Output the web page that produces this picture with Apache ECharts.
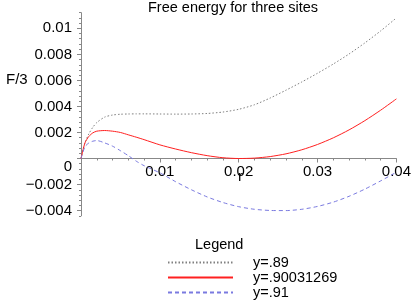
<!DOCTYPE html>
<html>
<head>
<meta charset="utf-8">
<script src="https://cdn.jsdelivr.net/npm/echarts@6/dist/echarts.min.js"></script>
<style>
html,body{margin:0;padding:0;background:#fff;}
#c{width:414px;height:302px;}
</style>
</head>
<body>
<div id="c"></div>
<script>
// r values (x axis)
const rValues = [0, 0.0005, 0.001, 0.0015, 0.002, 0.003, 0.004, 0.005, 0.006, 0.007, 0.008, 0.01, 0.012, 0.014, 0.016, 0.018, 0.02, 0.022, 0.024, 0.026, 0.028, 0.03, 0.032, 0.034, 0.036, 0.038, 0.04];
// F/3 for y=.89
const f089 = [0, 0.0012, 0.0019, 0.0024, 0.00276, 0.00318, 0.00334, 0.0034, 0.00342, 0.00343, 0.00343, 0.00342, 0.00341, 0.00342, 0.00346, 0.00357, 0.00378, 0.00413, 0.00465, 0.00525, 0.00588, 0.00655, 0.00726, 0.00803, 0.00888, 0.0098, 0.0108];
// F/3 for y=.90031269
const f090 = [0, 0.0012, 0.0017, 0.00197, 0.0021, 0.00215, 0.0021, 0.002, 0.00182, 0.00164, 0.00145, 0.00105, 0.00073, 0.00045, 0.00022, 0.00006, 0, 0.00003, 0.00015, 0.00036, 0.00067, 0.00108, 0.00159, 0.0022, 0.00291, 0.00371, 0.00458];
// F/3 for y=.91
const f091 = [0, 0.0009, 0.0012, 0.00133, 0.00138, 0.0012, 0.00095, 0.0006, 0.00022, -0.0002, -0.00055, -0.0011, -0.00178, -0.0024, -0.00295, -0.00338, -0.0037, -0.0039, -0.00399, -0.004, -0.0039, -0.00368, -0.00335, -0.0029, -0.00235, -0.00172, -0.00105];

const seriesNames = ['y=.89', 'y=.90031269', 'y=.91'];
const xTicks = [0.01, 0.02, 0.03, 0.04];
const xTickLabels = ['0.01', '0.02', '0.03', '0.04'];
const yTicks = [-0.004, -0.002, 0, 0.002, 0.004, 0.006, 0.008, 0.01];
const yTickLabels = ['\u22120.004', '\u22120.002', '0', '0.002', '0.004', '0.006', '0.008', '0.01'];
const yMinorTicks = [];
for (let k = -11; k <= 28; k++) { if (k % 5 !== 0) yMinorTicks.push(k * 4 / 10000); }

const pair = (ys) => rValues.map((r, i) => [r, ys[i]]);
const FONT = 'Liberation Sans, Arial, sans-serif';
const Y_MIN = -0.0044, Y_MAX = 0.0112;
const GRID = {left: 81, right: 12, top: 12.7, bottom: 86.2};
const plotH = 302 - GRID.top - GRID.bottom;
const zeroOffset = -plotH * (0 - Y_MIN) / (Y_MAX - Y_MIN);

const chart = echarts.init(document.getElementById('c'), null, {renderer: 'canvas'});
chart.setOption({
  animation: false,
  backgroundColor: '#fff',
  title: [
    {text: 'Free energy for three sites', left: 148, top: 0, padding: 0,
     textStyle: {fontFamily: FONT, fontSize: 14.5, fontWeight: 'normal', color: '#000'}},
    {text: 'Legend', left: 195, top: 237, padding: 0,
     textStyle: {fontFamily: FONT, fontSize: 14.5, fontWeight: 'normal', color: '#000'}}
  ],
  graphic: [
    {type: 'text', left: 6, top: 72, style: {text: 'F/3', font: '15px ' + FONT, fill: '#000'}},
    {type: 'text', left: 238, top: 169, style: {text: 'r', font: '15px ' + FONT, fill: '#000'}}
  ],
  grid: GRID,
  legend: {
    orient: 'vertical', left: 167, top: 255, padding: 0,
    itemWidth: 65, itemHeight: 10, itemGap: 0,
    itemStyle: {opacity: 0},
    textStyle: {fontFamily: FONT, fontSize: 14.5, color: '#000', lineHeight: 13.5, padding: [0, 0, 0, 15]},
    data: seriesNames
  },
  xAxis: [
    {
      type: 'value', min: 0, max: 0.04, interval: 0.01,
      axisLine: {onZero: true, lineStyle: {color: '#888', width: 1}},
      axisTick: {show: true, length: 4, lineStyle: {color: '#888'}},
      minorTick: {show: true, splitNumber: 5, length: 2, lineStyle: {color: '#888'}},
      splitLine: {show: false},
      axisLabel: {show: false}
    },
    {
      type: 'value', min: 0, max: 0.04, interval: 0.01, position: 'bottom', offset: zeroOffset,
      axisLine: {show: false, onZero: false},
      axisTick: {show: false},
      splitLine: {show: false},
      axisLabel: {
        margin: 6, fontFamily: FONT, fontSize: 15, color: '#000',
        formatter: (v) => { const i = xTicks.findIndex(t => Math.abs(t - v) < 1e-9); return i >= 0 ? xTickLabels[i] : ''; }
      }
    }
  ],
  yAxis: [
    {
      type: 'value', min: Y_MIN, max: Y_MAX,
      axisLine: {show: true, onZero: false, lineStyle: {color: '#888', width: 1}},
      axisTick: {show: true, length: 4, customValues: yTicks, lineStyle: {color: '#888'}},
      splitLine: {show: false},
      axisLabel: {
        customValues: yTicks, margin: 9, fontFamily: FONT, fontSize: 15, color: '#000',
        formatter: (v) => {
          const i = yTicks.findIndex(t => Math.abs(t - v) < 1e-9);
          if (i < 0) return '';
          return Math.abs(v) < 1e-12 ? '{z|' + yTickLabels[i] + '}' : yTickLabels[i];
        },
        rich: {z: {fontFamily: FONT, fontSize: 15, color: '#000', padding: [16, 0, 0, 0]}}
      }
    },
    {
      type: 'value', min: Y_MIN, max: Y_MAX, position: 'left',
      axisLine: {show: false},
      axisTick: {show: true, length: 2, customValues: yMinorTicks, lineStyle: {color: '#888'}},
      axisLabel: {show: false},
      splitLine: {show: false}
    }
  ],
  series: [
    {name: seriesNames[0], type: 'line', data: pair(f089), showSymbol: false, symbol: 'none', smooth: 0.25,
     lineStyle: {color: '#808080', width: 1, type: [1.5, 2]}, itemStyle: {color: '#808080'}},
    {name: seriesNames[1], type: 'line', data: pair(f090), showSymbol: false, symbol: 'none', smooth: 0.25,
     lineStyle: {color: '#ff2020', width: 1, type: 'solid'}, itemStyle: {color: '#ff2020'}},
    {name: seriesNames[2], type: 'line', data: pair(f091), showSymbol: false, symbol: 'none', smooth: 0.25,
     lineStyle: {color: '#7a7ae0', width: 1, type: [4, 3]}, itemStyle: {color: '#7a7ae0'}}
  ]
});
</script>
</body>
</html>
